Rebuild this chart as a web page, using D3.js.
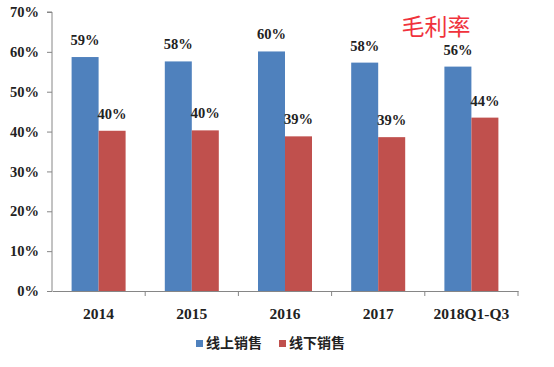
<!DOCTYPE html>
<html>
<head>
<meta charset="utf-8">
<script src="https://cdn.jsdelivr.net/npm/d3@7"></script>
<style>
  body { margin: 0; background: #fff; }
</style>
</head>
<body>
<div class="container"></div>
<script>
// Data
const categories = ['2014', '2015', '2016', '2017', '2018Q1-Q3'];
const seriesNames = ['线上销售', '线下销售'];
const onlineValues = [58.7, 57.6, 60.1, 57.3, 56.3];
const offlineValues = [40.2, 40.3, 38.8, 38.6, 43.5];
const onlineLabels = ['59%', '58%', '60%', '58%', '56%'];
const offlineLabels = ['40%', '40%', '39%', '39%', '44%'];
const yTicks = [0, 10, 20, 30, 40, 50, 60, 70];

const width = 554;
const height = 367;
const colors = ['#4f81bd', '#c0504d'];
const serif = '"Liberation Serif", "DejaVu Serif", serif';

const svg = d3
  .select('.container')
  .append('svg')
  .attr('width', width)
  .attr('height', height);

const x = d3.scaleBand().domain(categories).range([52, 518]);
const y = d3.scaleLinear().domain([0, 70]).range([291, 12]);
const barW = 27;

const rows = categories.map((c, i) => ({
  cat: c,
  values: [onlineValues[i], offlineValues[i]],
  labels: [onlineLabels[i], offlineLabels[i]],
}));

// Bars
const groups = svg
  .append('g')
  .selectAll('g')
  .data(rows)
  .enter()
  .append('g')
  .attr('transform', (d) => `translate(${x(d.cat) + x.bandwidth() / 2 - barW},0)`);

groups
  .selectAll('rect')
  .data((d) => d.values)
  .enter()
  .append('rect')
  .attr('x', (d, i) => i * barW)
  .attr('y', (d) => y(d))
  .attr('width', barW)
  .attr('height', (d) => y(0) - y(d))
  .attr('fill', (d, i) => colors[i]);

groups
  .selectAll('text')
  .data((d) => d.values.map((v, i) => ({ v, label: d.labels[i] })))
  .enter()
  .append('text')
  .attr('x', (d, i) => i * barW + barW / 2)
  .attr('y', (d) => y(d.v) - 12)
  .attr('text-anchor', 'middle')
  .style('font-family', serif)
  .style('font-weight', 'bold')
  .style('font-size', '14.5px')
  .attr('fill', '#222')
  .text((d) => d.label);

// Y axis
const yAxis = d3
  .axisLeft(y)
  .tickValues(yTicks)
  .tickSize(5)
  .tickPadding(8)
  .tickFormat((d) => d + '%');

const yg = svg.append('g').attr('transform', 'translate(52,0)').call(yAxis);

// X axis
const xAxis = d3.axisBottom(x).tickSize(0).tickPadding(17);
const xg = svg.append('g').attr('transform', `translate(0,${y(0)})`).call(xAxis);

// x tick marks at band boundaries
xg.selectAll('.bound')
  .data(categories)
  .enter()
  .append('line')
  .attr('x1', (d) => x(d) + x.bandwidth())
  .attr('x2', (d) => x(d) + x.bandwidth())
  .attr('y1', 0)
  .attr('y2', 5)
  .attr('stroke', '#868686');

[yg, xg].forEach((g) => {
  g.selectAll('.domain').attr('stroke', '#868686');
  g.selectAll('.tick line').attr('stroke', '#868686');
  g.selectAll('text')
    .style('font-family', serif)
    .style('font-weight', 'bold')
    .style('font-size', '14.5px')
    .attr('fill', '#222');
});
xg.selectAll('text').style('font-size', '15.5px');
yg.select('.domain').attr('d', `M-5,${y(70)}H0V${y(0)}`);

// Title
svg
  .append('text')
  .attr('x', 436)
  .attr('y', 35)
  .attr('text-anchor', 'middle')
  .style('font-family', '"Noto Sans CJK SC", sans-serif')
  .style('font-size', '23px')
  .attr('fill', '#f0323c')
  .text('毛利率');

// Legend
const legend = svg
  .append('g')
  .selectAll('g')
  .data(seriesNames)
  .enter()
  .append('g')
  .attr('transform', (d, i) => `translate(${196 + i * 83},340)`);

legend
  .append('rect')
  .attr('width', 7)
  .attr('height', 7)
  .attr('fill', (d, i) => colors[i]);

legend
  .append('text')
  .attr('x', 10)
  .attr('y', 8)
  .style('font-family', '"Noto Sans CJK SC", sans-serif')
  .style('font-weight', 'bold')
  .style('font-size', '14px')
  .attr('fill', '#222')
  .text((d) => d);
</script>
</body>
</html>
